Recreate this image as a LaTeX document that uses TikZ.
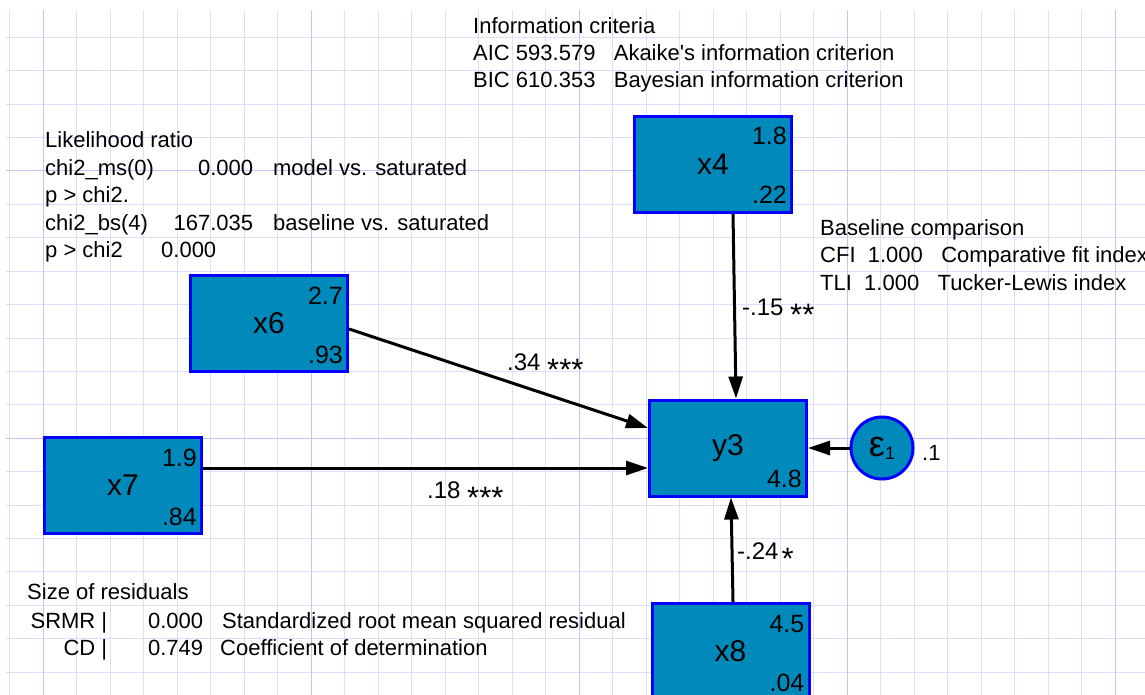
\documentclass[tikz,border=0pt]{standalone}
\usepackage{fontspec}
\newfontfamily\arial{Liberation Sans}
\usetikzlibrary{arrows.meta}
\definecolor{boxfill}{RGB}{0,137,187}
\definecolor{boxline}{RGB}{0,0,255}
\definecolor{gridminor}{RGB}{222,222,252}
\definecolor{gridmajor}{RGB}{196,196,242}
\newcommand\sigstars[1]{\raisebox{-10pt}{\fontsize{31}{31}\selectfont #1}}
\begin{document}
\begin{tikzpicture}[x=1pt,y=-1pt,
  var/.style={draw=boxline, fill=boxfill, line width=3pt, minimum width=157pt, minimum height=96pt, inner sep=0pt, font=\arial\fontsize{30}{30}\selectfont},
  err/.style={circle, draw=boxline, fill=boxfill, line width=3pt, minimum size=62pt, inner sep=0pt, font=\arial},
  num/.style={inner sep=0pt, font=\arial\fontsize{25}{25}\selectfont},
  txt/.style={inner sep=0pt, anchor=base west, font=\arial\fontsize{22}{22}\selectfont},
  lbl/.style={inner sep=0pt, anchor=base west, font=\arial\fontsize{24}{24}\selectfont},
  conn/.style={line width=3pt, -{Triangle[length=22pt,width=14pt]}},
  minorline/.style={draw=gridminor, line width=1pt},
  majorline/.style={draw=gridmajor, line width=1pt},
]
\useasboundingbox (0,0) rectangle (1145,695);
\clip (0,0) rectangle (1145,695);
\fill[white] (0,0) rectangle (1145,695);
% grid
\begin{scope}
\clip (6,10) rectangle (1145,695);
\foreach \k in {0,...,33} \path[minorline] ({9.5+33.5*\k},10) -- ({9.5+33.5*\k},695);
\foreach \k in {-4,...,15} \path[minorline] (6,{171+33.4*\k}) -- (1145,{171+33.4*\k});
\foreach \xx in {43,311,579,847,1115} \path[majorline] (\xx,10) -- (\xx,695);
\foreach \yy in {171,438.2} \path[majorline] (6,\yy) -- (1145,\yy);
\end{scope}

% variables
\node[var] (x4) at (713,164.5) {x4};
\node[var] (x6) at (269,323.5) {x6};
\node[var] (x7) at (123,485.5) {x7};
\node[var] (y3) at (728,448) {y3};
\node[var] (x8) at (730.5,651.5) {x8};
\node[err] (e1) at (882,448) {{\fontsize{36}{36}\selectfont ε}\raisebox{-3pt}{\fontsize{18}{18}\selectfont 1}};

% box numbers
\node[num, anchor=base east] (x4a) at ([shift={(-6,30)}]x4.north east) {1.8};
\node[num, anchor=base east] (x4b) at ([shift={(-6,-10)}]x4.south east) {.22};
\node[num, anchor=base east] (x6a) at ([shift={(-6,30)}]x6.north east) {2.7};
\node[num, anchor=base east] (x6b) at ([shift={(-6,-10)}]x6.south east) {.93};
\node[num, anchor=base east] (x7a) at ([shift={(-6,30)}]x7.north east) {1.9};
\node[num, anchor=base east] (x7b) at ([shift={(-6,-10)}]x7.south east) {.84};
\node[num, anchor=base east] (y3b) at ([shift={(-6,-10)}]y3.south east) {4.8};
\node[num, anchor=base east] (x8a) at ([shift={(-6,30)}]x8.north east) {4.5};
\node[num, anchor=base east] (x8b) at ([shift={(-6,-10)}]x8.south east) {.04};
\node[txt] (e1v) at (922,460) {.1};

% connectors
\draw[conn] ([xshift=20pt]x4.south) -- ([xshift=8pt]y3.north);
\draw[conn] ([yshift=-5.5pt]x6.east) -- ([yshift=20pt]y3.west);
\draw[conn] ([yshift=17.5pt]x7.east) -- ([yshift=-20pt]y3.west);
\draw[conn] ([xshift=2.5pt]x8.north) -- ([xshift=3pt]y3.south);
\draw[conn] (e1.west) -- (y3.east);

% path labels
\node[lbl] (l46) at (507,370) {.34 \sigstars{***}};
\node[lbl] (l76) at (427,498) {.18 \sigstars{***}};
\node[lbl] (l43) at (742,315) {-.15 \sigstars{**}};
\node[lbl] (l83) at (737,559) {-.24\hspace{3pt}\sigstars{*}};

% information criteria
\node[txt] (ic1) at (473,34) {Information criteria};
\node[txt] (ic2) at (473,61) {AIC 593.579\ \ \ Akaike's information criterion};
\node[txt] (ic3) at (473,88) {BIC 610.353\ \ \ Bayesian information criterion};

% likelihood ratio
\node[txt] (lr1) at (45,148) {Likelihood ratio};
\node[txt] (lr2) at (45,175.5) {\makebox[208pt][l]{chi2\_ms(0)\hfill 0.000}\hspace{20pt}model vs. saturated};
\node[txt] (lr3) at (45,203) {p > chi2.};
\node[txt] (lr4) at (45,230) {\makebox[208pt][l]{chi2\_bs(4)\hfill 167.035}\hspace{20pt}baseline vs. saturated};
\node[txt] (lr5) at (45,257) {\makebox[116pt][l]{p > chi2}0.000};

% baseline comparison
\node[txt] (bc1) at (820,235) {Baseline comparison};
\node[txt] (bc2) at (820,262.5) {CFI\ \ 1.000\ \ \ Comparative fit index};
\node[txt] (bc3) at (820,290) {TLI\ \ 1.000\ \ \ Tucker-Lewis index};

% size of residuals
\node[txt] (sr1) at (27,599) {Size of residuals};
\node[txt] (sr2) at (27,628) {\makebox[80pt][r]{SRMR |}\makebox[96pt][r]{0.000}\hspace{19pt}Standardized root mean squared residual};
\node[txt] (sr3) at (27,655.5) {\makebox[80pt][r]{CD |}\makebox[96pt][r]{0.749}\hspace{17pt}Coefficient of determination};
\end{tikzpicture}
\end{document}
